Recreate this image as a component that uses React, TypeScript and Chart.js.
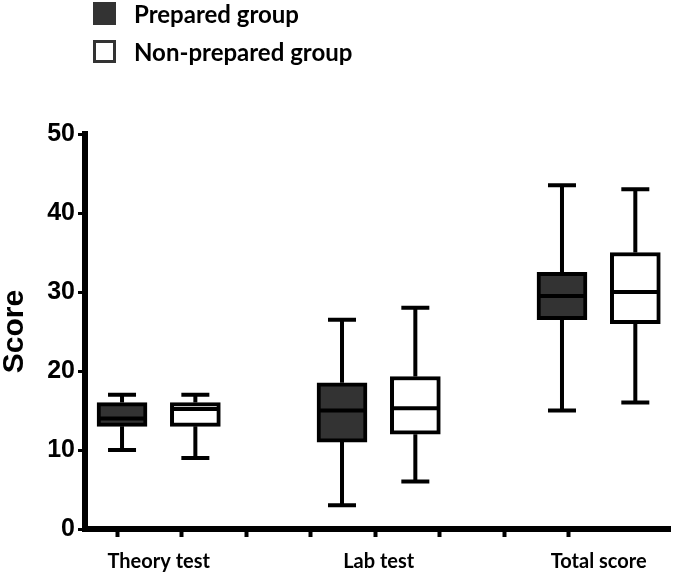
import React, { useEffect, useRef } from 'react';
import { Chart, registerables } from 'chart.js';

Chart.register(...registerables);

const categories = ['Theory test', 'Lab test', 'Total score'];
const seriesNames = ['Prepared group', 'Non-prepared group'];

const preparedMin = [10, 3, 15];
const preparedQ1 = [13, 11, 26.5];
const preparedMedian = [14, 15, 29.5];
const preparedQ3 = [16, 18.5, 32.5];
const preparedMax = [17, 26.5, 43.5];

const nonPreparedMin = [9, 6, 16];
const nonPreparedQ1 = [13, 12, 26];
const nonPreparedMedian = [15.2, 15.3, 30];
const nonPreparedQ3 = [16, 19.3, 35];
const nonPreparedMax = [17, 28, 43];

const yTicks = [0, 10, 20, 30, 40, 50];

const seriesFill = ['#333333', '#ffffff'];

const series = [
  { name: seriesNames[0], min: preparedMin, q1: preparedQ1, med: preparedMedian, q3: preparedQ3, max: preparedMax, fill: seriesFill[0] },
  { name: seriesNames[1], min: nonPreparedMin, q1: nonPreparedQ1, med: nonPreparedMedian, q3: nonPreparedQ3, max: nonPreparedMax, fill: seriesFill[1] },
];

// layout: each category is a group of two boxes, groups separated by one empty slot
const pos = (ci: number, si: number) => ci * 3 + 1 + si;
const groupCenter = (ci: number) => ci * 3 + 1.5;
const X_MIN = 0.495;
const X_MAX = 8.473;
const AXIS_TICK_START = 0.932;
const AXIS_TICK_STEP = 0.88;
const AXIS_TICK_COUNT = 8;

const boxPlugin = {
  id: 'boxWhiskers',
  afterDatasetsDraw(chart: any) {
    const { ctx } = chart;
    const x = chart.scales.x;
    const y = chart.scales.y;
    ctx.save();
    ctx.strokeStyle = '#000';
    ctx.lineWidth = 4;
    ctx.lineCap = 'butt';
    series.forEach((s, si) => {
      categories.forEach((_c, ci) => {
        const px = x.getPixelForValue(pos(ci, si));
        const yMin = y.getPixelForValue(s.min[ci]);
        const yQ1 = y.getPixelForValue(s.q1[ci]);
        const yMed = y.getPixelForValue(s.med[ci]);
        const yQ3 = y.getPixelForValue(s.q3[ci]);
        const yMax = y.getPixelForValue(s.max[ci]);
        ctx.beginPath();
        ctx.moveTo(px, yQ3);
        ctx.lineTo(px, yMax);
        ctx.moveTo(px, yQ1);
        ctx.lineTo(px, yMin);
        ctx.moveTo(px - 14, yMax);
        ctx.lineTo(px + 14, yMax);
        ctx.moveTo(px - 14, yMin);
        ctx.lineTo(px + 14, yMin);
        ctx.moveTo(px - 24, yMed);
        ctx.lineTo(px + 24, yMed);
        ctx.stroke();
      });
    });
    ctx.restore();
  },
};

export default function App() {
  const ref = useRef<HTMLCanvasElement | null>(null);

  useEffect(() => {
    if (!ref.current) return;
    const datasets = series.map((s, si) => ({
      label: s.name,
      data: categories.map((_c, ci) => ({ x: pos(ci, si), y: [s.q1[ci], s.q3[ci]] })),
      backgroundColor: s.fill,
      borderColor: '#000',
      borderWidth: 4,
      borderSkipped: false,
      barThickness: 50,
      grouped: false,
    }));
    const chart = new Chart(ref.current, {
      type: 'bar',
      data: { datasets } as any,
      plugins: [boxPlugin],
      options: {
        animation: false,
        responsive: true,
        maintainAspectRatio: false,
        layout: { padding: { top: 134, right: 5, left: 0, bottom: 0 } },
        plugins: { legend: { display: false }, tooltip: { enabled: false } },
        scales: {
          x: {
            type: 'linear',
            min: X_MIN,
            max: X_MAX,
            offset: false,
            position: 'bottom',
            afterBuildTicks: (scale: any) => {
              scale.ticks = Array.from({ length: AXIS_TICK_COUNT }, (_v, i) => ({ value: AXIS_TICK_START + i * AXIS_TICK_STEP }));
            },
            ticks: { display: false },
            grid: { display: true, drawOnChartArea: false, drawTicks: true, tickLength: 8, tickWidth: 4, color: '#000', offset: false },
            border: { display: true, color: '#000', width: 6 },
            afterFit: (scale: any) => { scale.height = 8; },
          },
          xCat: {
            type: 'linear',
            min: X_MIN,
            max: X_MAX,
            offset: false,
            position: 'bottom',
            afterBuildTicks: (scale: any) => {
              scale.ticks = categories.map((_c, ci) => ({ value: groupCenter(ci) }));
            },
            ticks: {
              callback: (_v: any, i: number) => categories[i],
              color: '#000',
              font: { family: 'Lato', weight: 'bold', size: 20 },
              padding: 13,
              maxRotation: 0,
              autoSkip: false,
            },
            grid: { display: false, drawTicks: false },
            border: { display: false },
            afterFit: (scale: any) => { scale.height = 38; },
          },
          y: {
            type: 'linear',
            min: 0,
            max: 50,
            afterBuildTicks: (scale: any) => {
              scale.ticks = yTicks.map((v) => ({ value: v }));
            },
            ticks: {
              color: '#000',
              font: { family: 'Liberation Sans', weight: 'bold', size: 25 },
              padding: 3,
            },
            grid: { display: true, drawOnChartArea: false, drawTicks: true, tickLength: 7, tickWidth: 3, color: '#000' },
            border: { display: true, color: '#000', width: 6 },
            title: {
              display: true,
              text: 'Score',
              color: '#000',
              font: { family: 'Liberation Sans', weight: 'bold', size: 30, lineHeight: 1 },
              padding: { top: 0, bottom: 0 },
            },
            afterFit: (scale: any) => { scale.width = 85; },
          },
        },
      } as any,
    });
    return () => chart.destroy();
  }, []);

  const legendRow = (i: number, top: number) => (
    <div key={i} style={{ position: 'absolute', left: 93, top, display: 'flex', alignItems: 'center', height: 23 }}>
      <div style={{ width: 23, height: 23, boxSizing: 'border-box', border: '3px solid #333', background: seriesFill[i] }} />
      <span style={{ marginLeft: 18, fontFamily: 'Lato', fontWeight: 700, fontSize: 24, color: '#000', whiteSpace: 'nowrap' }}>{seriesNames[i]}</span>
    </div>
  );

  return (
    <div style={{ position: 'absolute', left: 0, top: 0, width: 675, height: 575, background: '#fff' }}>
      <div style={{ position: 'absolute', left: 0, top: 0, width: 675, height: 575 }}>
        <canvas ref={ref} />
      </div>
      {legendRow(0, 2)}
      {legendRow(1, 40)}
    </div>
  );
}
